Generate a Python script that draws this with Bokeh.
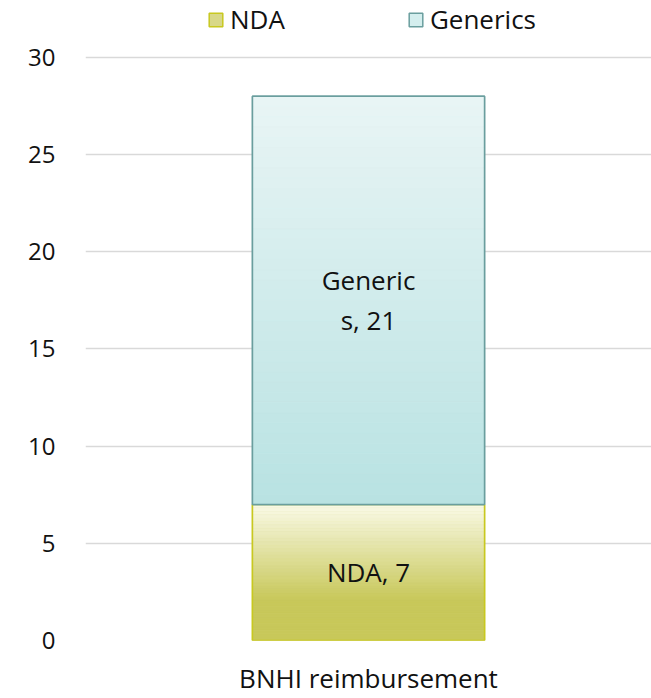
import textwrap
from bokeh.plotting import figure
from bokeh.models import ColumnDataSource, Legend, LegendItem, FactorRange, Range1d
from bokeh.core.properties import value
from bokeh.embed import file_html
from bokeh.resources import INLINE

# ---- data ----
categories = ["BNHI reimbursement"]
series = ["NDA", "Generics"]
nda_values = [7]
generics_values = [21]
y_ticks = [0, 5, 10, 15, 20, 25, 30]

# ---- styles ----
FONT = "Open Sans"
grad_top = {"NDA": (250, 250, 232), "Generics": (233, 245, 245)}
grad_bot = {"NDA": (200, 200, 90), "Generics": (184, 226, 226)}
border = {"NDA": "#c8c820", "Generics": "#6a9e9e"}
swatch = {"NDA": "#d8d888", "Generics": "#d4eeee"}

# y range extends above the top tick so the legend sits inside the frame
p = figure(x_range=FactorRange(*categories), y_range=Range1d(0, 32.92),
           width=651, height=698, output_backend="svg", toolbar_location=None,
           min_border_left=85, min_border_right=0, min_border_top=0, min_border_bottom=50)
p.outline_line_color = None
p.background_fill_color = "white"

stack_vals = {"NDA": nda_values, "Generics": generics_values}
BAR_W = 0.41
N = 40
legend_items = []
base = [0] * len(categories)
for s in series:
    vals = stack_vals[s]
    tops = [b + v for b, v in zip(base, vals)]
    src = ColumnDataSource(dict(x=categories, bottom=base, top=tops))
    r = p.vbar(x="x", bottom="bottom", top="top", width=BAR_W, source=src,
               fill_color=swatch[s], line_color=border[s], line_width=1.5)
    for ci, cat in enumerate(categories):
        b0, t0 = base[ci], tops[ci]
        xs, bs, ts, cs = [], [], [], []
        for i in range(N):
            f = i / N
            lo = t0 - (t0 - b0) * (i + 1) / N
            hi = t0 - (t0 - b0) * i / N
            if s == "NDA":
                g = min(1.0, (f + 0.5 / N) / 0.7)
            else:
                g = f + 0.5 / N
            c1, c2 = grad_top[s], grad_bot[s]
            col = "#%02x%02x%02x" % tuple(int(round(c1[k] + (c2[k] - c1[k]) * g)) for k in range(3))
            xs.append(cat); bs.append(lo); ts.append(hi); cs.append(col)
        p.vbar(x=xs, bottom=bs, top=ts, width=BAR_W, fill_color=cs, line_color=cs, line_width=0.5)
    p.vbar(x="x", bottom="bottom", top="top", width=BAR_W, source=src,
           fill_alpha=0, line_color=border[s], line_width=1.5)
    lbl = ["\n".join(textwrap.wrap(f"{s}, {v}", 7)) for v in vals]
    mids = [(b + t) / 2 for b, t in zip(base, tops)]
    p.text(x=categories, y=mids, text=lbl, text_align="center", text_baseline="middle",
           text_font=value(FONT), text_font_size="26px", text_color="#111111",
           text_line_height=1.12)
    legend_items.append(LegendItem(label=s, renderers=[r]))
    base = tops

legend = Legend(items=legend_items, orientation="horizontal", location=(122, 603),
                glyph_width=17, glyph_height=17, label_standoff=6, spacing=122,
                padding=0, margin=0, border_line_color=None, background_fill_alpha=0,
                label_text_font=FONT, label_text_font_size="26px", label_text_color="#111111")
p.add_layout(legend, "center")

p.yaxis.ticker = y_ticks
p.yaxis.axis_line_color = None
p.yaxis.major_tick_line_color = None
p.yaxis.minor_tick_line_color = None
p.yaxis.major_label_standoff = 24
p.yaxis.major_label_text_font = FONT
p.yaxis.major_label_text_font_size = "24px"
p.yaxis.major_label_text_color = "#111111"

p.xaxis.axis_line_color = None
p.xaxis.major_tick_line_color = None
p.xaxis.major_label_standoff = 13
p.xaxis.major_label_text_font = FONT
p.xaxis.major_label_text_font_size = "26px"
p.xaxis.major_label_text_color = "#111111"

p.xgrid.grid_line_color = None
p.ygrid.grid_line_color = "#d9d9d9"
p.ygrid.grid_line_width = 1.5

open("out.html", "w").write(file_html(p, INLINE))
